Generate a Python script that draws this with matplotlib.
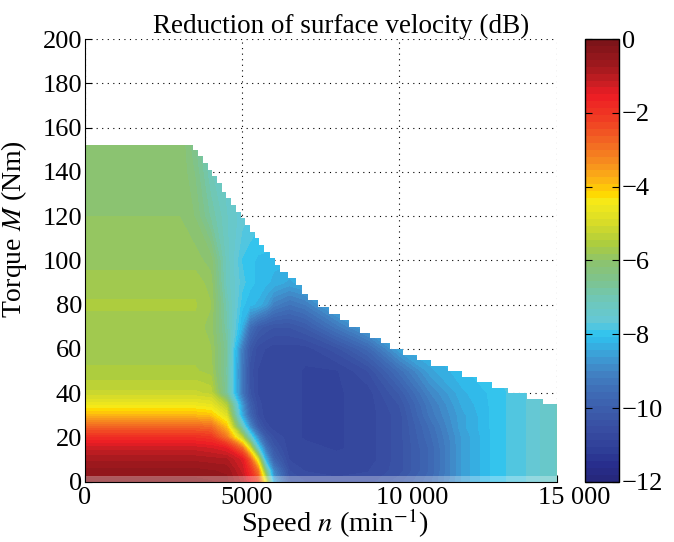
import numpy as np
import matplotlib
matplotlib.use("Agg")
import matplotlib.pyplot as plt
from matplotlib.colors import LinearSegmentedColormap
from matplotlib.patches import Polygon
from matplotlib.transforms import ScaledTranslation

# --- data (speed in min^-1, torque in Nm, value in dB) ---
SPEED = [0, 2000, 3000, 3500, 4000, 4500, 5000, 5250, 5500, 5750, 6000,
         6500, 7000, 8000, 9000, 10000, 11000, 12000, 13000, 14000, 15000]
TORQUE = [0, 5, 10, 15, 20, 25, 30, 35, 40, 50, 60, 70, 80, 90, 100, 120, 140, 155]

DB_T0 = [-0.3, -0.3, -0.3, -0.3, -0.35, -0.5, -1.0, -1.6, -2.3, -4.8, -8.4, -10.3, -10.5, -10.6, -10.6, -10.2, -9.6, -8.6, -8.0, -7.7, -7.3]
DB_T5 = [-0.5, -0.5, -0.5, -0.5, -0.55, -0.6, -1.2, -1.9, -3.0, -6.5, -9.0, -10.5, -10.7, -10.8, -10.7, -10.4, -9.7, -8.6, -8.0, -7.7, -7.3]
DB_T10 = [-0.8, -0.8, -0.8, -0.8, -0.85, -0.9, -1.4, -2.6, -4.8, -8.3, -9.8, -10.7, -10.8, -10.8, -10.8, -10.4, -9.7, -8.6, -8.0, -7.7, -7.3]
DB_T15 = [-1.2, -1.2, -1.2, -1.2, -1.3, -1.5, -2.8, -4.8, -7.5, -9.3, -10.2, -10.8, -10.8, -10.9, -10.8, -10.4, -9.7, -8.6, -8.0, -7.7, -7.3]
DB_T20 = [-1.9, -1.9, -1.9, -1.9, -2.0, -3.0, -5.3, -7.2, -8.9, -10.1, -10.5, -10.8, -10.9, -10.9, -10.8, -10.4, -9.6, -8.6, -8.0, -7.7, -7.3]
DB_T25 = [-2.8, -2.8, -2.8, -2.8, -2.9, -4.0, -7.2, -8.9, -10.1, -10.6, -10.8, -10.8, -10.9, -10.9, -10.8, -10.4, -9.5, -8.5, -8.0, -7.7, -7.3]
DB_T30 = [-3.9, -3.9, -3.9, -3.9, -4.0, -4.8, -8.4, -9.7, -10.5, -10.8, -10.8, -10.8, -10.9, -10.9, -10.8, -10.4, -9.3, -8.5, -8.0, -7.7, -7.3]
DB_T35 = [-4.6, -4.6, -4.6, -4.6, -4.7, -5.5, -8.7, -10.0, -10.6, -10.8, -10.8, -10.8, -10.9, -10.9, -10.8, -10.3, -9.2, -8.4, -8.0, -7.7, -7.3]
DB_T40 = [-5.2, -5.2, -5.2, -5.2, -5.3, -6.7, -9.3, -10.3, -10.7, -10.8, -10.8, -10.8, -10.9, -10.9, -10.8, -10.1, -9.0, -8.3, -8.0, -7.7, -7.3]
DB_T50 = [-5.6, -5.6, -5.6, -5.6, -5.7, -6.8, -9.3, -10.4, -10.7, -10.8, -10.8, -10.8, -10.9, -10.9, -10.5, -9.5, -8.5, -8.1, -7.9, -7.7, -7.3]
DB_T60 = [-5.7, -5.7, -5.7, -5.7, -5.8, -6.7, -9.2, -10.2, -10.6, -10.7, -10.8, -10.8, -10.8, -10.4, -9.7, -8.5, -8.2, -8.0, -7.9, -7.7, -7.3]
DB_T70 = [-5.7, -5.7, -5.7, -5.7, -5.9, -6.9, -8.3, -9.5, -10.0, -10.2, -10.3, -10.3, -10.1, -9.3, -8.5, -8.2, -8.1, -8.0, -7.9, -7.7, -7.3]
DB_T80 = [-5.6, -5.6, -5.6, -5.6, -5.8, -7.0, -8.0, -8.2, -8.3, -8.6, -9.1, -9.4, -9.2, -8.3, -8.2, -8.1, -8.0, -8.0, -7.9, -7.7, -7.3]
DB_T90 = [-5.7, -5.7, -5.7, -5.7, -5.9, -7.2, -7.8, -8.0, -8.1, -8.2, -8.3, -8.5, -8.3, -8.2, -8.1, -8.0, -8.0, -8.0, -7.9, -7.7, -7.3]
DB_T100 = [-5.9, -5.9, -5.9, -5.9, -6.1, -7.2, -7.9, -8.0, -8.1, -8.1, -8.2, -8.2, -8.2, -8.1, -8.0, -8.0, -8.0, -8.0, -7.9, -7.7, -7.3]
DB_T120 = [-6.0, -6.0, -6.0, -6.2, -6.8, -7.3, -7.6, -7.7, -7.8, -7.9, -8.0, -8.0, -8.0, -8.0, -8.0, -8.0, -8.0, -8.0, -7.9, -7.7, -7.3]
DB_T140 = [-6.0, -6.0, -6.0, -6.4, -7.1, -7.4, -7.6, -7.7, -7.8, -7.9, -8.0, -8.0, -8.0, -8.0, -8.0, -8.0, -8.0, -8.0, -7.9, -7.7, -7.3]
DB_T155 = [-6.0, -6.0, -6.0, -6.6, -7.2, -7.4, -7.6, -7.7, -7.8, -7.9, -8.0, -8.0, -8.0, -8.0, -8.0, -8.0, -8.0, -8.0, -7.9, -7.7, -7.3]

# torque limit (step starts)
ENV_SPEED = [0, 3450, 3600, 3750, 3900, 4050, 4200, 4350, 4500, 4650, 4800, 4950,
             5100, 5250, 5400, 5550, 5700, 5900, 6050, 6200, 6450, 6700, 6900,
             7100, 7400, 7750, 8100, 8400, 8750, 9050, 9400, 9700, 10100, 10550,
             11000, 11550, 12000, 12450, 12950, 13450, 14050, 14550, 15000]
ENV_TORQUE = [152, 150, 147, 144, 141, 138, 135, 131, 128, 125, 122, 119,
              116, 113, 110, 107, 104, 101, 98, 95, 92, 89, 85,
              82, 79, 76, 73, 70, 67, 65, 62.5, 60, 57.5, 55,
              52.5, 50, 47.5, 45, 42.5, 40, 37.5, 35, 35]

CB_TICKS = [0, -2, -4, -6, -8, -10, -12]
X_TICKS = [0, 5000, 10000, 15000]
X_LABELS = ["0", "5000", "10 000", "15 000"]
Y_TICKS = list(range(0, 201, 20))

# colour map (value in dB -> rgb)
CMAP_POINTS = [
    (-12.0, (38, 40, 125)), (-11.65, (40, 45, 140)), (-11.3, (45, 60, 150)),
    (-10.75, (55, 75, 160)), (-10.2, (60, 90, 170)), (-9.7, (62, 105, 180)),
    (-9.1, (65, 130, 195)), (-8.6, (60, 160, 215)), (-8.05, (45, 195, 240)),
    (-7.68, (100, 200, 215)), (-7.1, (110, 200, 185)), (-6.6, (125, 195, 145)),
    (-6.05, (140, 195, 110)), (-5.5, (175, 205, 60)), (-4.97, (215, 220, 40)),
    (-4.4, (245, 235, 25)), (-4.17, (255, 215, 0)), (-3.8, (252, 180, 20)),
    (-3.35, (247, 145, 30)), (-2.7, (242, 100, 35)), (-2.1, (240, 60, 35)),
    (-1.46, (237, 28, 36)), (-1.1, (200, 30, 35)), (-0.65, (160, 25, 30)),
    (0.0, (125, 20, 25)),
]

plt.rcParams['font.family'] = ['Liberation Serif', 'DejaVu Serif']
plt.rcParams['mathtext.fontset'] = 'stix'

cmap = LinearSegmentedColormap.from_list(
    "surf", [((v + 12) / 12, np.array(c) / 255) for v, c in CMAP_POINTS], N=64)

Z = np.array([DB_T0, DB_T5, DB_T10, DB_T15, DB_T20, DB_T25, DB_T30, DB_T35,
              DB_T40, DB_T50, DB_T60, DB_T70, DB_T80, DB_T90, DB_T100,
              DB_T120, DB_T140, DB_T155])

fig = plt.figure(figsize=(6.74, 5.42), dpi=100)
ax = fig.add_axes([0.126, 0.111, 0.700, 0.817])
cax = fig.add_axes([0.868, 0.111, 0.050, 0.817])

ax.set_axisbelow(True)
ax.grid(True, linestyle=(0, (1, 4)), color='black', linewidth=0.8)

cs = ax.contourf(SPEED, TORQUE, Z, levels=np.linspace(-12, 0, 65),
                 cmap=cmap, vmin=-12, vmax=0)

# staircase outline of the operating range, used as clip path
xs, ys = [0], [0]
for i in range(len(ENV_SPEED) - 1):
    xs += [ENV_SPEED[i], ENV_SPEED[i + 1]]
    ys += [ENV_TORQUE[i], ENV_TORQUE[i]]
xs += [ENV_SPEED[-1]]
ys += [0]
clip = Polygon(np.column_stack([xs, ys]), closed=True, transform=ax.transData,
               facecolor='none', edgecolor='none')
cs.set_clip_path(clip)

# bottom row is drawn lighter in the original
ax.axhspan(0, 2.5, color='white', alpha=0.3, lw=0, zorder=2)

ax.set_xlim(0, 15000)
ax.set_ylim(0, 200)
ax.set_xticks(X_TICKS)
ax.set_xticklabels(X_LABELS)
ax.set_yticks(Y_TICKS)
ax.spines['top'].set_visible(False)
ax.spines['right'].set_visible(False)
ax.tick_params(direction='in', length=5, labelsize=19, pad=2)
ax.tick_params(axis='x', pad=4)

# the original labels with thousands spaces sit a bit right of their ticks
for lab, dx in zip(ax.get_xticklabels(), [0, 4, 13, 17]):
    lab.set_transform(lab.get_transform() + ScaledTranslation(dx / 100, 0, fig.dpi_scale_trans))

ax.set_xlabel("Speed $n$ (min$^{-1}$)", fontsize=20.5)
ax.xaxis.set_label_coords(0.53, -0.056, transform=ax.transAxes)
ax.xaxis.label.set_va('top')
ax.set_ylabel("Torque $M$ (Nm)", fontsize=20)
ax.yaxis.set_label_coords(-0.118, 0.57)
ax.set_title("Reduction of surface velocity (dB)", fontsize=19.5, x=0.542, pad=4)

cb = fig.colorbar(cs, cax=cax, ticks=CB_TICKS)
cb.outline.set_linewidth(1.0)
cb.ax.tick_params(direction='in', length=5, labelsize=19, left=True, right=True, pad=2)

fig.savefig("out.png", dpi=100)
